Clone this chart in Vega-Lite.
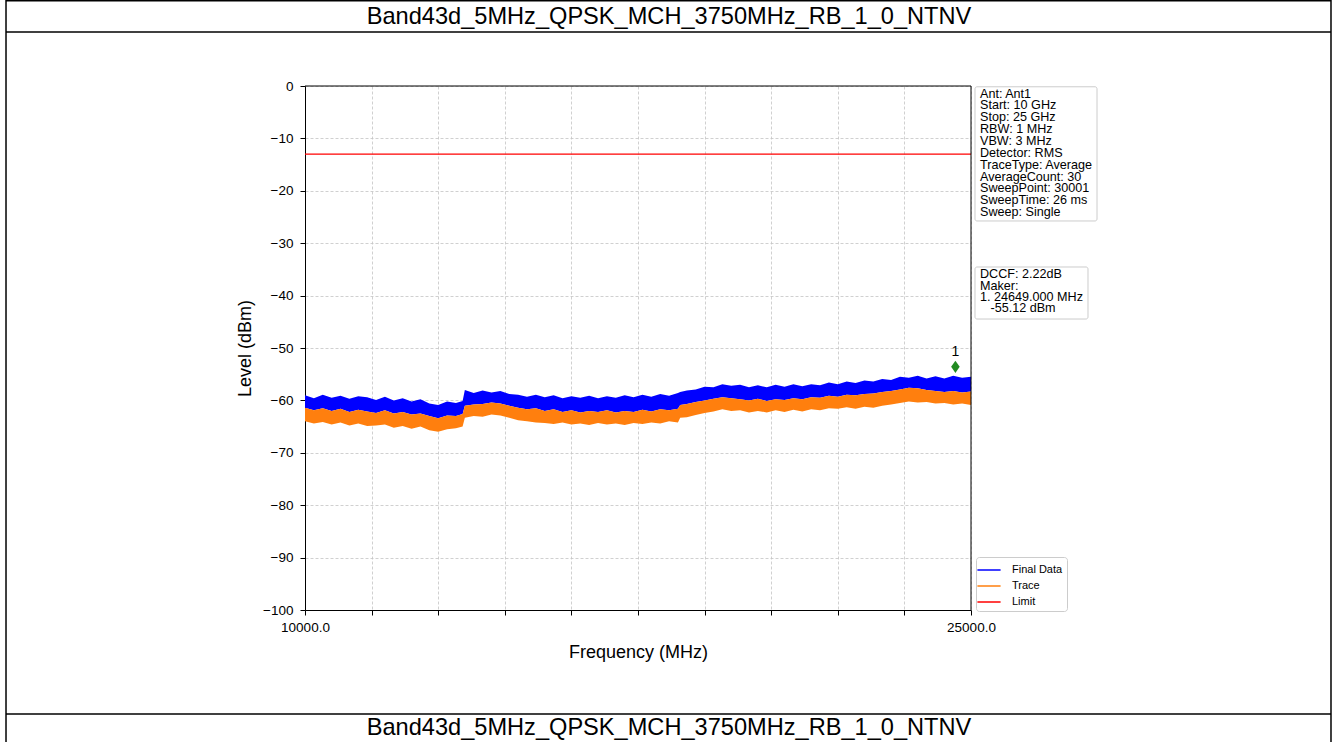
{
  "$schema": "https://vega.github.io/schema/vega-lite/v6.json",
  "width": 666,
  "height": 524,
  "autosize": {"type": "none"},
  "padding": {"left": 305, "top": 86, "right": 367, "bottom": 132},
  "background": "white",
  "data": {"values": [{}]},
  "config": {
    "font": "Liberation Sans",
    "view": {"stroke": null},
    "axis": {
      "labelFont": "Liberation Sans",
      "titleFont": "Liberation Sans",
      "labelColor": "black",
      "titleColor": "black",
      "domainColor": "black",
      "tickColor": "black",
      "tickSize": 5,
      "labelFontSize": 13.5,
      "titleFontSize": 18,
      "titleFontWeight": "normal",
      "gridColor": "#c4c4c4",
      "gridDash": [3, 2],
      "gridWidth": 0.8
    },
    "legend": {
      "orient": "none",
      "legendX": 671,
      "legendY": 471,
      "symbolType": "M-1.45,0H1.45",
      "symbolSize": 256,
      "symbolStrokeWidth": 1.5,
      "labelFont": "Liberation Sans",
      "labelFontSize": 11,
      "labelColor": "black",
      "fillColor": "white",
      "strokeColor": "#cccccc",
      "cornerRadius": 3,
      "padding": 4,
      "rowPadding": 2,
      "labelOffset": 14
    }
  },
  "datasets": {
    "spectrum": [
      {"f": 10000, "bh": -59.0, "oh": -61.4, "ol": -64.0},
      {"f": 10200, "bh": -59.6, "oh": -61.9, "ol": -64.4},
      {"f": 10400, "bh": -58.9, "oh": -61.5, "ol": -64.1},
      {"f": 10600, "bh": -59.5, "oh": -62.0, "ol": -64.6},
      {"f": 10800, "bh": -59.1, "oh": -61.6, "ol": -64.2},
      {"f": 11000, "bh": -59.7, "oh": -62.2, "ol": -64.8},
      {"f": 11200, "bh": -59.2, "oh": -61.8, "ol": -64.4},
      {"f": 11400, "bh": -59.4, "oh": -62.1, "ol": -64.9},
      {"f": 11600, "bh": -59.9, "oh": -62.4, "ol": -64.8},
      {"f": 11800, "bh": -59.3, "oh": -61.9, "ol": -64.6},
      {"f": 12000, "bh": -60.0, "oh": -62.5, "ol": -65.2},
      {"f": 12200, "bh": -59.6, "oh": -62.2, "ol": -64.9},
      {"f": 12400, "bh": -60.2, "oh": -62.7, "ol": -65.4},
      {"f": 12600, "bh": -59.8, "oh": -62.5, "ol": -65.0},
      {"f": 12800, "bh": -60.6, "oh": -63.0, "ol": -65.7},
      {"f": 13000, "bh": -60.9, "oh": -63.4, "ol": -66.0},
      {"f": 13200, "bh": -60.2, "oh": -62.9, "ol": -65.5},
      {"f": 13400, "bh": -60.5, "oh": -63.0, "ol": -65.3},
      {"f": 13550, "bh": -60.1, "oh": -62.6, "ol": -65.0},
      {"f": 13600, "bh": -58.0, "oh": -61.0, "ol": -63.3},
      {"f": 13800, "bh": -58.6, "oh": -60.8, "ol": -63.0},
      {"f": 14000, "bh": -58.1, "oh": -60.7, "ol": -63.1},
      {"f": 14200, "bh": -58.5, "oh": -60.4, "ol": -62.7},
      {"f": 14400, "bh": -58.2, "oh": -60.6, "ol": -62.9},
      {"f": 14600, "bh": -58.8, "oh": -61.0, "ol": -63.3},
      {"f": 14800, "bh": -58.9, "oh": -61.4, "ol": -63.8},
      {"f": 15000, "bh": -59.3, "oh": -61.7, "ol": -64.0},
      {"f": 15200, "bh": -58.9, "oh": -61.5, "ol": -64.2},
      {"f": 15400, "bh": -59.4, "oh": -62.0, "ol": -64.3},
      {"f": 15600, "bh": -59.0, "oh": -61.7, "ol": -64.5},
      {"f": 15800, "bh": -59.6, "oh": -62.2, "ol": -64.2},
      {"f": 16000, "bh": -59.2, "oh": -61.9, "ol": -64.6},
      {"f": 16200, "bh": -59.5, "oh": -62.3, "ol": -64.4},
      {"f": 16400, "bh": -59.1, "oh": -62.0, "ol": -64.7},
      {"f": 16600, "bh": -59.6, "oh": -62.2, "ol": -64.3},
      {"f": 16800, "bh": -59.2, "oh": -61.9, "ol": -64.6},
      {"f": 17000, "bh": -59.5, "oh": -62.3, "ol": -64.4},
      {"f": 17200, "bh": -59.0, "oh": -62.0, "ol": -64.7},
      {"f": 17400, "bh": -59.4, "oh": -62.2, "ol": -64.3},
      {"f": 17600, "bh": -58.9, "oh": -61.8, "ol": -64.5},
      {"f": 17800, "bh": -59.3, "oh": -62.1, "ol": -64.2},
      {"f": 18000, "bh": -58.8, "oh": -61.7, "ol": -64.4},
      {"f": 18200, "bh": -59.1, "oh": -61.9, "ol": -64.0},
      {"f": 18400, "bh": -58.6, "oh": -61.6, "ol": -64.2},
      {"f": 18450, "bh": -58.4, "oh": -60.9, "ol": -63.3},
      {"f": 18600, "bh": -58.1, "oh": -60.7, "ol": -63.2},
      {"f": 18800, "bh": -57.9, "oh": -60.3, "ol": -62.8},
      {"f": 19000, "bh": -57.4, "oh": -60.0, "ol": -62.4},
      {"f": 19200, "bh": -57.5, "oh": -59.7, "ol": -62.1},
      {"f": 19400, "bh": -56.9, "oh": -59.4, "ol": -61.7},
      {"f": 19600, "bh": -57.2, "oh": -59.6, "ol": -62.0},
      {"f": 19800, "bh": -57.0, "oh": -59.8, "ol": -61.9},
      {"f": 20000, "bh": -57.5, "oh": -60.0, "ol": -62.3},
      {"f": 20200, "bh": -57.1, "oh": -59.7, "ol": -62.0},
      {"f": 20400, "bh": -57.5, "oh": -60.1, "ol": -62.3},
      {"f": 20600, "bh": -57.0, "oh": -59.8, "ol": -61.9},
      {"f": 20800, "bh": -57.4, "oh": -59.9, "ol": -62.2},
      {"f": 21000, "bh": -56.9, "oh": -59.6, "ol": -61.8},
      {"f": 21200, "bh": -57.3, "oh": -59.8, "ol": -62.1},
      {"f": 21400, "bh": -56.9, "oh": -59.4, "ol": -61.7},
      {"f": 21600, "bh": -57.1, "oh": -59.5, "ol": -61.9},
      {"f": 21800, "bh": -56.6, "oh": -59.1, "ol": -61.5},
      {"f": 22000, "bh": -56.9, "oh": -59.3, "ol": -61.6},
      {"f": 22200, "bh": -56.4, "oh": -58.9, "ol": -61.3},
      {"f": 22400, "bh": -56.7, "oh": -59.0, "ol": -61.6},
      {"f": 22600, "bh": -56.2, "oh": -58.8, "ol": -61.2},
      {"f": 22800, "bh": -56.4, "oh": -58.7, "ol": -61.4},
      {"f": 23000, "bh": -55.9, "oh": -58.4, "ol": -61.0},
      {"f": 23200, "bh": -56.1, "oh": -58.2, "ol": -60.8},
      {"f": 23400, "bh": -55.5, "oh": -57.9, "ol": -60.5},
      {"f": 23600, "bh": -55.7, "oh": -57.6, "ol": -60.2},
      {"f": 23800, "bh": -55.3, "oh": -57.7, "ol": -60.4},
      {"f": 24000, "bh": -55.8, "oh": -58.0, "ol": -60.3},
      {"f": 24200, "bh": -55.4, "oh": -58.2, "ol": -60.6},
      {"f": 24400, "bh": -55.8, "oh": -58.4, "ol": -60.5},
      {"f": 24600, "bh": -55.3, "oh": -58.2, "ol": -60.8},
      {"f": 24800, "bh": -55.7, "oh": -58.5, "ol": -60.6},
      {"f": 25000, "bh": -55.5, "oh": -58.3, "ol": -60.9}
    ],
    "limit": [
      {"f": 10000, "level": -13, "series": "Limit"},
      {"f": 25000, "level": -13, "series": "Limit"}
    ],
    "marker": [
      {"f": 24649, "level": -53.6, "label": "1"}
    ]
  },
  "layer": [
    {
      "data": {"name": "spectrum"},
      "mark": {"type": "area", "color": "#0000ff", "opacity": 1},
      "encoding": {
        "x": {
          "field": "f", "type": "quantitative",
          "scale": {"domain": [10000, 25000], "nice": false, "zero": false},
          "axis": {
            "title": "Frequency (MHz)",
            "values": [10000, 11500, 13000, 14500, 16000, 17500, 19000, 20500, 22000, 23500, 25000],
            "labelExpr": "datum.value == 10000 || datum.value == 25000 ? format(datum.value, '.1f') : ''",
            "labelOverlap": false,
            "labelFlush": false,
            "labelPadding": 5,
            "titlePadding": 10,
            "grid": true
          }
        },
        "y": {
          "field": "bh", "type": "quantitative",
          "scale": {"domain": [-100, 0], "nice": false, "zero": false},
          "axis": {
            "title": "Level (dBm)",
            "values": [0, -10, -20, -30, -40, -50, -60, -70, -80, -90, -100],
            "format": "d",
            "labelPadding": 7,
            "titlePadding": 8,
            "grid": true
          }
        },
        "y2": {"field": "oh"}
      }
    },
    {
      "data": {"name": "spectrum"},
      "mark": {"type": "area", "color": "#ff7f0e", "opacity": 1},
      "encoding": {
        "x": {"field": "f", "type": "quantitative", "scale": {"domain": [10000, 25000], "nice": false, "zero": false}},
        "y": {"field": "oh", "type": "quantitative", "scale": {"domain": [-100, 0], "nice": false, "zero": false}},
        "y2": {"field": "ol"}
      }
    },
    {
      "data": {"name": "limit"},
      "mark": {"type": "line", "strokeWidth": 1.3},
      "encoding": {
        "x": {"field": "f", "type": "quantitative", "scale": {"domain": [10000, 25000], "nice": false, "zero": false}},
        "y": {"field": "level", "type": "quantitative", "scale": {"domain": [-100, 0], "nice": false, "zero": false}},
        "color": {
          "field": "series", "type": "nominal",
          "scale": {"domain": ["Final Data", "Trace", "Limit"], "range": ["#0000ff", "#ff7f0e", "#ff0000"]},
          "legend": {"title": null}
        }
      }
    },
    {
      "mark": {"type": "rule", "color": "black", "strokeWidth": 1},
      "encoding": {"x": {"datum": 10000}, "x2": {"datum": 25000}, "y": {"datum": 0}}
    },
    {
      "mark": {"type": "rule", "color": "black", "strokeWidth": 1},
      "encoding": {"x": {"datum": 25000}, "y": {"datum": 0}, "y2": {"datum": -100}}
    },
    {
      "data": {"name": "marker"},
      "mark": {"type": "point", "shape": "M0,-1L0.7,0L0,1L-0.7,0Z", "size": 150, "filled": true, "color": "#228b22", "opacity": 1},
      "encoding": {
        "x": {"field": "f", "type": "quantitative"},
        "y": {"field": "level", "type": "quantitative"}
      }
    },
    {
      "data": {"name": "marker"},
      "mark": {"type": "text", "dy": -15, "fontSize": 14, "color": "black", "font": "Liberation Sans"},
      "encoding": {
        "x": {"field": "f", "type": "quantitative"},
        "y": {"field": "level", "type": "quantitative"},
        "text": {"field": "label"}
      }
    },
    {
      "mark": {"type": "rect", "fill": "white", "stroke": "#cccccc", "strokeWidth": 1, "cornerRadius": 2},
      "encoding": {
        "x": {"datum": 25090}, "x2": {"datum": 27838},
        "y": {"datum": -0.15}, "y2": {"datum": -25.76}
      }
    },
    {
      "mark": {"type": "rect", "fill": "white", "stroke": "#cccccc", "strokeWidth": 1, "cornerRadius": 2},
      "encoding": {
        "x": {"datum": 25090}, "x2": {"datum": 27635},
        "y": {"datum": -34.54}, "y2": {"datum": -44.47}
      }
    },
    {
      "mark": {
        "type": "text", "align": "left", "baseline": "top", "fontSize": 12.6, "lineHeight": 11.85, "color": "black", "font": "Liberation Sans",
        "text": ["Ant: Ant1", "Start: 10 GHz", "Stop: 25 GHz", "RBW: 1 MHz", "VBW: 3 MHz", "Detector: RMS", "TraceType: Average", "AverageCount: 30", "SweepPoint: 30001", "SweepTime: 26 ms", "Sweep: Single"]
      },
      "encoding": {"x": {"datum": 25203}, "y": {"datum": -0.3}}
    },
    {
      "mark": {
        "type": "text", "align": "left", "baseline": "top", "fontSize": 12.6, "lineHeight": 11.4, "color": "black", "font": "Liberation Sans",
        "text": ["DCCF: 2.22dB", "Maker:", "1. 24649.000 MHz", "\u200b\u00a0\u00a0\u00a0-55.12 dBm"]
      },
      "encoding": {"x": {"datum": 25203}, "y": {"datum": -34.77}}
    },
    {
      "mark": {"type": "rule", "color": "black", "strokeWidth": 1.5},
      "encoding": {"x": {"datum": 3266}, "y": {"datum": 16.5}, "y2": {"datum": -126}}
    },
    {
      "mark": {"type": "rule", "color": "black", "strokeWidth": 1.5},
      "encoding": {"x": {"datum": 33108}, "y": {"datum": 16.5}, "y2": {"datum": -126}}
    },
    {
      "mark": {"type": "rule", "color": "black", "strokeWidth": 2},
      "encoding": {"x": {"datum": 3266}, "x2": {"datum": 33108}, "y": {"datum": 16.3}}
    },
    {
      "mark": {"type": "rule", "color": "black", "strokeWidth": 1.5},
      "encoding": {"x": {"datum": 3266}, "x2": {"datum": 33108}, "y": {"datum": 10.31}}
    },
    {
      "mark": {"type": "rule", "color": "black", "strokeWidth": 1.5},
      "encoding": {"x": {"datum": 3266}, "x2": {"datum": 33108}, "y": {"datum": -119.85}}
    },
    {
      "mark": {"type": "text", "align": "center", "baseline": "middle", "fontSize": 23.6, "color": "black", "font": "Liberation Sans", "text": "Band43d_5MHz_QPSK_MCH_3750MHz_RB_1_0_NTNV"},
      "encoding": {"x": {"datum": 18198}, "y": {"datum": 13.2}}
    },
    {
      "mark": {"type": "text", "align": "center", "baseline": "middle", "fontSize": 23.6, "color": "black", "font": "Liberation Sans", "text": "Band43d_5MHz_QPSK_MCH_3750MHz_RB_1_0_NTNV"},
      "encoding": {"x": {"datum": 18198}, "y": {"datum": -122.6}}
    }
  ]
}
